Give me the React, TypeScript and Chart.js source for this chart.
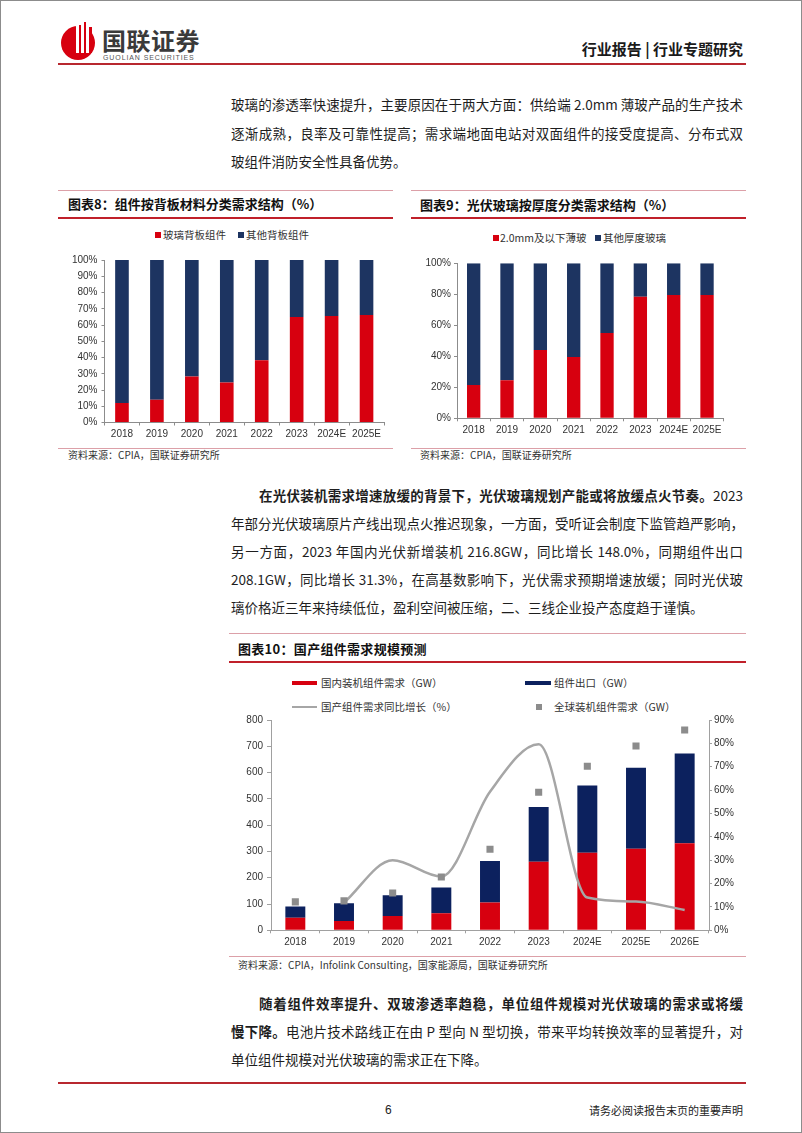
import React, { useEffect, useRef } from "react";
import { Chart, registerables } from "chart.js";

Chart.register(...registerables);

// ---------- data ----------
const years8 = ["2018", "2019", "2020", "2021", "2022", "2023", "2024E", "2025E"];
const glassBack = [12, 14, 28.3, 24.6, 38.3, 65, 65.6, 66.2];
const otherBack = [88, 86, 71.7, 75.4, 61.7, 35, 34.4, 33.8];

const years9 = ["2018", "2019", "2020", "2021", "2022", "2023", "2024E", "2025E"];
const thinGlass = [21.5, 24.5, 44, 39.5, 55, 78.5, 79.5, 79.5];
const otherGlass = [78.5, 75.5, 56, 60.5, 45, 21.5, 20.5, 20.5];

const years10 = ["2018", "2019", "2020", "2021", "2022", "2023", "2024E", "2025E", "2026E"];
const domesticGW = [48, 35, 54, 65, 106, 261, 295, 310, 331];
const exportGW = [43, 68, 79, 98, 158, 208, 256, 308, 342];
const yoyPct = [null, 11.8, 30, 23, 59.3, 79.6, 14, 12.3, 8.7];
const globalGW = [108, 112, 142, 203, 308, 525, 624, 701, 762];

// ---------- styles ----------
const RED = "#d7000f";
const NAVY89 = "#1d3461";
const NAVY10 = "#0c215e";
const GRAYLINE = "#a6a6a6";
const GRAYPT = "#8c8c8c";
const AXIS = "#8c8c8c";
const TICK = "#333333";
const NUMF = "'Liberation Sans', Arial, sans-serif";
const CJK = "'Noto Sans CJK SC', sans-serif";

type Frame = {
  left: number;
  top: number;
  width: number;
  height: number;
  plotLeft: number;
  plotRight: number;
  plotTop: number;
  plotBottom: number;
};

function ChartCanvas({ frame, make }: { frame: Frame; make: (f: Frame) => any }) {
  const ref = useRef<HTMLCanvasElement | null>(null);
  useEffect(() => {
    if (!ref.current) return;
    const c = new Chart(ref.current, make(frame));
    return () => c.destroy();
  }, []);
  return (
    <canvas
      ref={ref}
      width={frame.width}
      height={frame.height}
      style={{ position: "absolute", left: frame.left, top: frame.top, width: frame.width, height: frame.height }}
    />
  );
}

function stackedConfig(
  f: Frame,
  labels: string[],
  a: number[],
  b: number[],
  la: string,
  lb: string,
  step: number,
  barPct: number,
  yPad: number
) {
  return {
    type: "bar",
    data: {
      labels,
      datasets: [
        { label: la, data: a, backgroundColor: RED, barPercentage: barPct, categoryPercentage: 1 },
        { label: lb, data: b, backgroundColor: NAVY89, barPercentage: barPct, categoryPercentage: 1 },
      ],
    },
    options: {
      responsive: false,
      animation: false,
      events: [],
      layout: { padding: { top: f.plotTop - f.top, right: f.left + f.width - f.plotRight, left: 0, bottom: 0 } },
      plugins: { legend: { display: false }, tooltip: { enabled: false } },
      scales: {
        x: {
          stacked: true,
          grid: { drawOnChartArea: false, tickLength: 3, color: AXIS },
          border: { color: AXIS },
          ticks: { color: TICK, font: { family: NUMF, size: 10 }, padding: 2.5, maxRotation: 0, autoSkip: false },
          afterFit: (s: any) => {
            s.height = f.top + f.height - f.plotBottom;
          },
        },
        y: {
          stacked: true,
          min: 0,
          max: 100,
          ticks: {
            stepSize: step,
            callback: (v: any) => v + "%",
            color: TICK,
            font: { family: NUMF, size: 10 },
            padding: yPad,
          },
          grid: { drawOnChartArea: false, tickLength: 3, color: AXIS },
          border: { color: AXIS },
          afterFit: (s: any) => {
            s.width = f.plotLeft - f.left;
          },
        },
      },
    },
  };
}

function config10(f: Frame) {
  return {
    type: "bar",
    data: {
      labels: years10,
      datasets: [
        {
          type: "line",
          label: "全球装机组件需求（GW）",
          data: globalGW,
          yAxisID: "y",
          showLine: false,
          pointStyle: "rect",
          pointRadius: 5,
          pointBackgroundColor: GRAYPT,
          pointBorderWidth: 0,
          order: 0,
        },
        {
          type: "line",
          label: "国产组件需求同比增长（%）",
          data: yoyPct,
          yAxisID: "y2",
          borderColor: GRAYLINE,
          borderWidth: 2.5,
          pointRadius: 0,
          cubicInterpolationMode: "monotone",
          spanGaps: false,
          order: 1,
        },
        {
          label: "国内装机组件需求（GW）",
          data: domesticGW,
          backgroundColor: RED,
          stack: "s",
          yAxisID: "y",
          barPercentage: 0.41,
          categoryPercentage: 1,
          order: 3,
        },
        {
          label: "组件出口（GW）",
          data: exportGW,
          backgroundColor: NAVY10,
          stack: "s",
          yAxisID: "y",
          barPercentage: 0.41,
          categoryPercentage: 1,
          order: 3,
        },
      ],
    },
    options: {
      responsive: false,
      animation: false,
      events: [],
      layout: { padding: { top: f.plotTop - f.top, right: 0, left: 0, bottom: 0 } },
      plugins: { legend: { display: false }, tooltip: { enabled: false } },
      scales: {
        x: {
          stacked: true,
          grid: { drawOnChartArea: false, tickLength: 3, color: "#a0a0a0" },
          border: { color: "#a0a0a0" },
          ticks: { color: TICK, font: { family: NUMF, size: 10 }, padding: 2.5, maxRotation: 0, autoSkip: false },
          afterFit: (s: any) => {
            s.height = f.top + f.height - f.plotBottom;
          },
        },
        y: {
          stacked: true,
          position: "left",
          min: 0,
          max: 800,
          ticks: { stepSize: 100, color: TICK, font: { family: NUMF, size: 10 }, padding: 4 },
          grid: { drawOnChartArea: false, tickLength: 4, color: "#a0a0a0" },
          border: { color: "#a0a0a0" },
          afterFit: (s: any) => {
            s.width = f.plotLeft - f.left;
          },
        },
        y2: {
          position: "right",
          min: 0,
          max: 90,
          ticks: { stepSize: 10, callback: (v: any) => v + "%", color: TICK, font: { family: NUMF, size: 10 }, padding: 2 },
          grid: { drawOnChartArea: false, tickLength: 3, color: "#a0a0a0" },
          border: { color: "#a0a0a0" },
          afterFit: (s: any) => {
            s.width = f.left + f.width - f.plotRight;
          },
        },
      },
    },
  };
}

// ---------- html helpers ----------
function Line({ x, y, w, h, c }: { x: number; y: number; w: number; h: number; c: string }) {
  return <div style={{ position: "absolute", left: x, top: y, width: w, height: h, background: c }} />;
}

function Txt(props: {
  x: number;
  y: number;
  size: number;
  w?: number;
  bold?: boolean;
  color?: string;
  justify?: boolean;
  right?: boolean;
  family?: string;
  ls?: number;
  children: any;
}) {
  const lh = Math.round(props.size * 1.5);
  return (
    <div
      style={{
        position: "absolute",
        left: props.x,
        top: props.y - lh / 2,
        width: props.w,
        height: lh,
        lineHeight: lh + "px",
        fontSize: props.size,
        fontFamily: props.family || CJK,
        fontWeight: props.bold ? 700 : 400,
        color: props.color || "#1e1e1e",
        whiteSpace: "nowrap",
        textAlign: props.right ? "right" : props.justify ? "justify" : "left",
        textAlignLast: props.right ? "right" : props.justify ? "justify" : "left",
        letterSpacing: props.ls || 0,
      }}
    >
      {props.children}
    </div>
  );
}

function Sq({ x, y, s, c }: { x: number; y: number; s: number; c: string }) {
  return <div style={{ position: "absolute", left: x, top: y - s / 2, width: s, height: s, background: c }} />;
}

const frame8: Frame = { left: 58, top: 248, width: 334, height: 198, plotLeft: 103.5, plotRight: 383, plotTop: 259, plotBottom: 421.5 };
const frame9: Frame = { left: 410, top: 250, width: 335, height: 196, plotLeft: 456, plotRight: 722.7, plotTop: 262.3, plotBottom: 417.3 };
const frame10: Frame = { left: 228, top: 708, width: 517, height: 245, plotLeft: 270, plotRight: 708, plotTop: 719, plotBottom: 929.3 };

const TEXT = 13.5;

export default function App() {
  return (
    <div
      style={{
        position: "absolute",
        left: 0,
        top: 0,
        width: 802,
        height: 1133,
        background: "#ffffff",
        border: "1px solid #8c8c8c",
        boxSizing: "border-box",
        overflow: "hidden",
      }}
    >
      {/* logo */}
      <svg width={42} height={42} style={{ position: "absolute", left: 58, top: 18 }} viewBox="0 0 42 42">
        <circle cx={19} cy={24} r={17} fill={RED} />
        <rect x={17} y={4} width={3} height={30} fill="#ffffff" />
        <rect x={22} y={2} width={3} height={32} fill="#ffffff" />
        <rect x={27} y={5} width={3} height={29} fill="#ffffff" />
        <rect x={20} y={6} width={2} height={28} fill={RED} />
        <rect x={25} y={3} width={2} height={31} fill={RED} />
        <rect x={30} y={8} width={3} height={26} fill={RED} />
      </svg>
      <Txt x={101} y={39} size={24} bold color="#3a3a3a" ls={0.5}>
        国联证券
      </Txt>
      <Txt x={102} y={56} size={7} family={NUMF} color="#555" ls={0.9}>
        GUOLIAN SECURITIES
      </Txt>
      <Txt x={542} y={47} size={15} w={200} right bold color="#1a1a1a">
        行业报告 | 行业专题研究
      </Txt>
      <Line x={57} y={62} w={688} h={2} c="#b8282f" />

      {/* paragraph 1 */}
      <Txt x={230} y={103} w={512} size={TEXT} justify>
        玻璃的渗透率快速提升，主要原因在于两大方面：供给端 2.0mm 薄玻产品的生产技术
      </Txt>
      <Txt x={230} y={131.5} w={512} size={TEXT} justify>
        逐渐成熟，良率及可靠性提高；需求端地面电站对双面组件的接受度提高、分布式双
      </Txt>
      <Txt x={230} y={160} size={TEXT}>
        玻组件消防安全性具备优势。
      </Txt>

      {/* chart 8 panel */}
      <Line x={57} y={189} w={335} h={1} c="#dca0a8" />
      <Txt x={67} y={203} size={13} bold color="#111">
        图表8：组件按背板材料分类需求结构（%）
      </Txt>
      <Line x={57} y={216} w={335} h={1.5} c="#c0202a" />
      <Sq x={154} y={234} s={6} c={RED} />
      <Txt x={162} y={234} size={10.5} color="#333">
        玻璃背板组件
      </Txt>
      <Sq x={237} y={234} s={6} c={NAVY89} />
      <Txt x={245} y={234} size={10.5} color="#333">
        其他背板组件
      </Txt>
      <ChartCanvas
        frame={frame8}
        make={(f) => stackedConfig(f, years8, glassBack, otherBack, "玻璃背板组件", "其他背板组件", 10, 0.39, 4)}
      />
      <Line x={57} y={447} w={335} h={1} c="#dca0a8" />
      <Txt x={67} y={453} size={10} color="#333">
        资料来源：CPIA，国联证券研究所
      </Txt>

      {/* chart 9 panel */}
      <Line x={410} y={189} w={335} h={1} c="#dca0a8" />
      <Txt x={419} y={204} size={13} bold color="#111">
        图表9：光伏玻璃按厚度分类需求结构（%）
      </Txt>
      <Line x={410} y={216} w={335} h={1.5} c="#c0202a" />
      <Sq x={492} y={237} s={6} c={RED} />
      <Txt x={499} y={237} size={10.5} color="#333">
        2.0mm及以下薄玻
      </Txt>
      <Sq x={594} y={237} s={6} c={NAVY89} />
      <Txt x={602} y={237} size={10.5} color="#333">
        其他厚度玻璃
      </Txt>
      <ChartCanvas
        frame={frame9}
        make={(f) => stackedConfig(f, years9, thinGlass, otherGlass, "2.0mm及以下薄玻", "其他厚度玻璃", 20, 0.4, 3)}
      />
      <Line x={410} y={447} w={335} h={1} c="#dca0a8" />
      <Txt x={419} y={453} size={10} color="#333">
        资料来源：CPIA，国联证券研究所
      </Txt>

      {/* paragraph 2 */}
      <Txt x={258} y={494} w={484} size={TEXT} justify>
        <b>在光伏装机需求增速放缓的背景下，光伏玻璃规划产能或将放缓点火节奏。</b>2023
      </Txt>
      <Txt x={230} y={522} w={512} size={TEXT} justify>
        年部分光伏玻璃原片产线出现点火推迟现象，一方面，受听证会制度下监管趋严影响，
      </Txt>
      <Txt x={230} y={550} w={512} size={TEXT} justify>
        另一方面，2023 年国内光伏新增装机 216.8GW，同比增长 148.0%，同期组件出口
      </Txt>
      <Txt x={230} y={578} w={512} size={TEXT} justify>
        208.1GW，同比增长 31.3%，在高基数影响下，光伏需求预期增速放缓；同时光伏玻
      </Txt>
      <Txt x={230} y={606} size={TEXT}>
        璃价格近三年来持续低位，盈利空间被压缩，二、三线企业投产态度趋于谨慎。
      </Txt>

      {/* chart 10 panel */}
      <Line x={228} y={632} w={517} h={1} c="#dca0a8" />
      <Txt x={237} y={648} size={13} bold color="#111" ls={0.3}>
        图表10：国产组件需求规模预测
      </Txt>
      <Line x={228} y={660} w={517} h={1.5} c="#c0202a" />
      <Line x={291} y={680} w={25} h={4} c={RED} />
      <Txt x={320} y={682} size={10.5} color="#333">
        国内装机组件需求（GW）
      </Txt>
      <Line x={524} y={680} w={26} h={4} c={NAVY10} />
      <Txt x={553} y={682} size={10.5} color="#333">
        组件出口（GW）
      </Txt>
      <Line x={291} y={705} w={25} h={2} c={GRAYLINE} />
      <Txt x={320} y={706} size={10.5} color="#333">
        国产组件需求同比增长（%）
      </Txt>
      <Sq x={535} y={706} s={6} c={GRAYPT} />
      <Txt x={553} y={706} size={10.5} color="#333">
        全球装机组件需求（GW）
      </Txt>
      <ChartCanvas frame={frame10} make={config10} />
      <Line x={228} y={955} w={517} h={1} c="#dca0a8" />
      <Txt x={237} y={963} size={10} color="#333">
        资料来源：CPIA，Infolink Consulting，国家能源局，国联证券研究所
      </Txt>

      {/* paragraph 3 */}
      <Txt x={258} y={1002} w={484} size={TEXT} justify bold>
        随着组件效率提升、双玻渗透率趋稳，单位组件规模对光伏玻璃的需求或将缓
      </Txt>
      <Txt x={230} y={1030} w={512} size={TEXT} justify>
        <b>慢下降。</b>电池片技术路线正在由 P 型向 N 型切换，带来平均转换效率的显著提升，对
      </Txt>
      <Txt x={230} y={1058} size={TEXT}>
        单位组件规模对光伏玻璃的需求正在下降。
      </Txt>

      {/* footer */}
      <Line x={57} y={1081} w={688} h={1.5} c="#b8282f" />
      <Txt x={384} y={1109} size={12} family={NUMF} color="#222">
        6
      </Txt>
      <Txt x={542} y={1109} w={200} size={11} right color="#222">
        请务必阅读报告末页的重要声明
      </Txt>
    </div>
  );
}
